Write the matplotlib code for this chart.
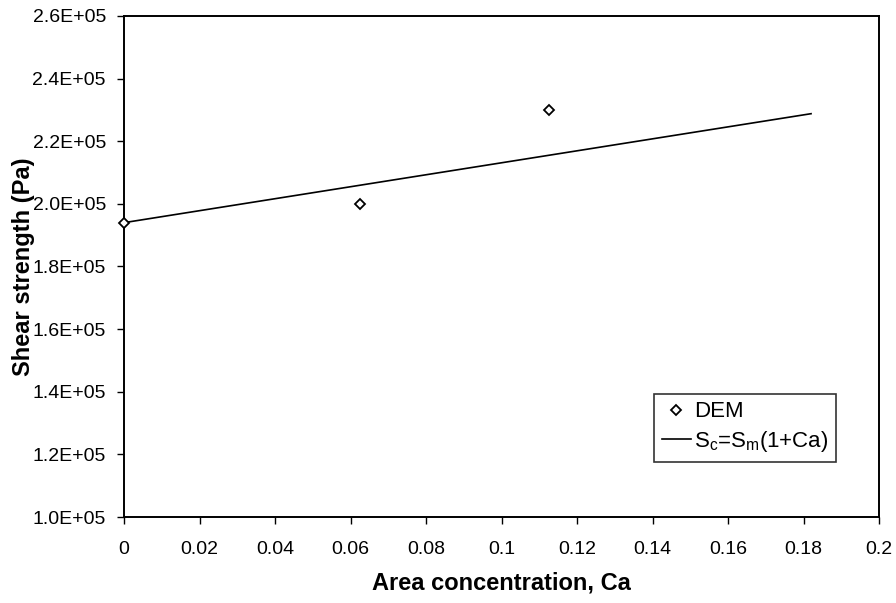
import matplotlib
matplotlib.use('Agg')
import matplotlib.pyplot as plt
from matplotlib.ticker import FixedLocator, FuncFormatter

# data
dem_ca = [0.0, 0.0625, 0.1125]
dem_strength = [1.94e5, 2.00e5, 2.30e5]
fit_ca = [0.0, 0.182]
fit_strength = [1.94e5, 2.288e5]

x_ticks = [0, 0.02, 0.04, 0.06, 0.08, 0.1, 0.12, 0.14, 0.16, 0.18, 0.2]
x_tick_labels = ['0', '0.02', '0.04', '0.06', '0.08', '0.1', '0.12', '0.14', '0.16', '0.18', '0.2']
y_ticks = [1.0e5, 1.2e5, 1.4e5, 1.6e5, 1.8e5, 2.0e5, 2.2e5, 2.4e5, 2.6e5]

plt.rcParams['font.family'] = ['Liberation Sans', 'DejaVu Sans']
plt.rcParams['mathtext.fontset'] = 'custom'
plt.rcParams['mathtext.rm'] = 'Liberation Sans'
plt.rcParams['mathtext.it'] = 'Liberation Sans'

fig = plt.figure(figsize=(8.96, 6.03), dpi=100)
ax = fig.add_axes([124 / 896, 1 - 517 / 603, 755 / 896, 501 / 603])

ax.plot(fit_ca, fit_strength, color='black', lw=1.2, label=r'S$_c$=S$_m$(1+Ca)', zorder=2)
ax.plot(dem_ca, dem_strength, ls='none', marker='D', ms=5, mfc='white', mec='black',
        mew=1.3, label='DEM', zorder=3, clip_on=False)

ax.set_xlim(0, 0.2)
ax.set_ylim(1.0e5, 2.6e5)
ax.xaxis.set_major_locator(FixedLocator(x_ticks))
ax.set_xticklabels(x_tick_labels)
ax.yaxis.set_major_locator(FixedLocator(y_ticks))
ax.yaxis.set_major_formatter(FuncFormatter(lambda v, p: '%.1fE+05' % (v / 1e5)))

ax.tick_params(direction='out', length=5, width=1.0, labelsize=14, color='black')
ax.tick_params(axis='x', pad=12)
ax.tick_params(axis='y', pad=8)
for s in ax.spines.values():
    s.set_linewidth(1.4)

ax.set_xlabel('Area concentration, Ca', fontsize=17, fontweight='bold')
ax.set_ylabel('Shear strength (Pa)', fontsize=17, fontweight='bold')
ax.xaxis.set_label_coords(0.5, -0.108)
ax.yaxis.set_label_coords(-0.118, 0.5)

h, l = ax.get_legend_handles_labels()
leg = ax.legend(h[::-1], l[::-1], loc='lower right', bbox_to_anchor=(0.943, 0.11),
                borderaxespad=0, fontsize=16, frameon=True, fancybox=False,
                edgecolor='black', handlelength=1.3, handletextpad=0.15,
                borderpad=0.35, labelspacing=0.3)
leg.get_frame().set_linewidth(1.2)

fig.savefig('out.png', dpi=100)
